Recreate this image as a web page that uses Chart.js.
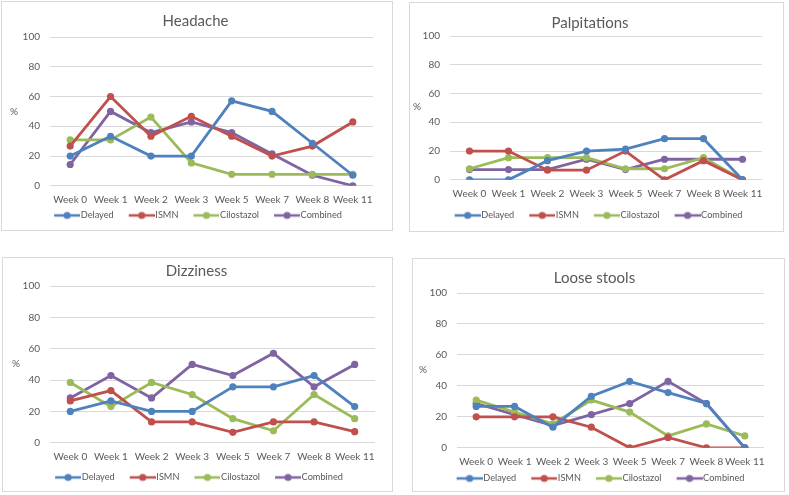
<!DOCTYPE html>
<html><head><meta charset="utf-8">
<script src="https://cdn.jsdelivr.net/npm/chart.js@4"></script>
<style>
html,body{margin:0;padding:0;background:#fff;width:789px;height:495px;overflow:hidden;}
.box{position:absolute;border:1px solid #d9d9d9;box-sizing:border-box;}
canvas{position:absolute;}
</style></head><body>
<div class="box" style="left:1px;top:1px;width:392px;height:230px"></div>
<div class="box" style="left:409px;top:2px;width:375px;height:230px"></div>
<div class="box" style="left:2px;top:257px;width:391px;height:235px"></div>
<div class="box" style="left:412px;top:258px;width:373px;height:234px"></div>
<canvas id="c1"></canvas><canvas id="c2"></canvas><canvas id="c3"></canvas><canvas id="c4"></canvas>
<script>
const weeks = ['Week 0','Week 1','Week 2','Week 3','Week 5','Week 7','Week 8','Week 11'];
const seriesNames = ['Delayed','ISMN','Cilostazol','Combined'];
const yTicks = [0,20,40,60,80,100];

const headacheDelayed    = [20, 33.3, 20, 20, 57.1, 50, 28.6, 7.1];
const headacheISMN       = [26.7, 60, 33.3, 46.7, 33.3, 20, 26.7, 42.9];
const headacheCilostazol = [30.8, 30.8, 46.2, 15.4, 7.7, 7.7, 7.7, 7.7];
const headacheCombined   = [14.3, 50, 35.7, 42.9, 35.7, 21.4, 7.1, 0];

const palpDelayed    = [0, 0, 13.3, 20, 21.4, 28.6, 28.6, 0];
const palpISMN       = [20, 20, 6.7, 6.7, 20, 0, 13.3, 0];
const palpCilostazol = [7.7, 15.4, 15.4, 15.4, 7.7, 7.7, 15.4, 0];
const palpCombined   = [7.1, 7.1, 7.1, 14.3, 7.1, 14.3, 14.3, 14.3];

const dizzDelayed    = [20, 26.7, 20, 20, 35.7, 35.7, 42.9, 23.1];
const dizzISMN       = [26.7, 33.3, 13.3, 13.3, 6.7, 13.3, 13.3, 7.1];
const dizzCilostazol = [38.5, 23.1, 38.5, 30.8, 15.4, 7.7, 30.8, 15.4];
const dizzCombined   = [28.6, 42.9, 28.6, 50, 42.9, 57.1, 35.7, 50];

const looseDelayed    = [26.7, 26.7, 13.3, 33.3, 42.9, 35.7, 28.6, 0];
const looseISMN       = [20, 20, 20, 13.3, 0, 6.7, 0, 0];
const looseCilostazol = [30.8, 23.1, 15.4, 30.8, 23.1, 7.7, 15.4, 7.7];
const looseCombined   = [28.6, 21.4, 14.3, 21.4, 28.6, 42.9, 28.6, 0];

const colors = ['#4F81BD','#C0504D','#9BBB59','#8064A2'];
const FONT = 'Lato';
const TXT = '#595959';
const BOXW = 35;
const LEG_PAD = 2;
const LINE_OFF = 13; // empty space before the legend line inside each item

function legendImg(color){
  const c = document.createElement('canvas');
  c.width = BOXW + 8; c.height = 10;
  const x = c.getContext('2d');
  x.strokeStyle = color; x.lineWidth = 2.5;
  x.beginPath(); x.moveTo(c.width - 26, 5); x.lineTo(c.width, 5); x.stroke();
  x.fillStyle = color; x.beginPath(); x.arc(c.width - 13, 5, 3.6, 0, Math.PI*2); x.fill();
  return c;
}
const legendImgs = colors.map(legendImg);

const pctPlugin = {
  id: 'pct',
  beforeDraw(chart, args, opts){
    const lg = chart.legend;
    if (lg && lg.lineWidths && !lg._shifted) {
      const lw = lg.lineWidths[0];
      const start = (lg.left + LEG_PAD + lg.right - lw) / 2;
      const vc = (start + LINE_OFF + start + lw - LEG_PAD) / 2;
      const dx = opts.lx - vc;
      lg.left += dx; lg.right += dx; lg._shifted = true;
    }
  },
  afterDraw(chart, args, opts){
    const ctx = chart.ctx;
    ctx.save();
    ctx.fillStyle = TXT; ctx.font = '10px ' + FONT;
    ctx.textAlign = 'center'; ctx.textBaseline = 'middle';
    ctx.fillText('%', opts.x, opts.y);
    ctx.restore();
  }
};

// g: geometry in absolute page coordinates
function makeChart(id, title, data, g){
  const cv = document.getElementById(id);
  const cx = g.bx + 1, cy = g.by + 1;
  const W = g.bw - 2;
  const plotL = g.pl - cx, plotR = g.pr - cx, plotT = g.pt - cy, plotB = g.pb - cy;
  const titleC = g.ty - cy;
  const lh = 15 * 1.2;
  const tPadTop = titleC - lh/2;
  const tPadBot = plotT - tPadTop - lh;
  const legC = g.ly - cy;
  const legTop = legC - 7;
  const H = Math.ceil(legTop + 24);
  const hx = legTop - plotB;
  const tickPad = (g.xy - cy) - plotB - 6;
  const R = W - plotR;
  const yW = 32;
  const L = plotL - yW;
  cv.style.left = cx + 'px'; cv.style.top = cy + 'px';
  cv.width = W; cv.height = H;
  return new Chart(cv, {
    type: 'line',
    data: {
      labels: weeks,
      datasets: data.map((d, i) => ({
        label: seriesNames[i], data: d,
        borderColor: colors[i], backgroundColor: colors[i],
        pointBackgroundColor: colors[i], pointBorderColor: colors[i],
        borderWidth: 2.8, pointRadius: 3.6, pointBorderWidth: 0, tension: 0
      }))
    },
    options: {
      responsive: false, animation: false,
      layout: { padding: { left: L, right: R, top: 0, bottom: 0 } },
      plugins: {
        title: { display: true, text: title, color: TXT,
          font: { family: FONT, size: 15, weight: 'normal' },
          padding: { top: tPadTop, bottom: tPadBot } },
        legend: { position: 'bottom',
          labels: { usePointStyle: true, pointStyleWidth: BOXW, padding: LEG_PAD, color: TXT,
            font: { family: FONT, size: 9.2 },
            generateLabels(chart){
              const items = Chart.defaults.plugins.legend.labels.generateLabels(chart);
              items.forEach((it, i) => { it.pointStyle = legendImgs[i]; });
              return items;
            } } },
        tooltip: { enabled: false },
        pct: { x: g.px - cx, y: g.py - cy, lx: g.lx - cx }
      },
      scales: {
        x: { offset: true, grid: { display: false, drawTicks: false }, border: { display: false },
          ticks: { color: TXT, font: { family: FONT, size: 10 }, padding: tickPad,
            maxRotation: 0, minRotation: 0, autoSkip: false },
          afterFit(s){ s.height = hx; } },
        y: { min: 0, max: 100,
          grid: { color: '#d9d9d9', lineWidth: 1, drawTicks: false }, border: { display: false },
          afterBuildTicks(s){ s.ticks = yTicks.map(v => ({ value: v })); },
          ticks: { color: TXT, font: { family: FONT, size: 10 }, padding: 10 },
          afterFit(s){ s.width = yW; } }
      }
    },
    plugins: [pctPlugin]
  });
}

makeChart('c1', 'Headache', [headacheDelayed, headacheISMN, headacheCilostazol, headacheCombined],
  { bx:1, by:1, bw:392, pl:50, pr:373, pt:37, pb:183, ty:21, xy:197, ly:213, lx:198, px:14, py:112 });
makeChart('c2', 'Palpitations', [palpDelayed, palpISMN, palpCilostazol, palpCombined],
  { bx:409, by:2, bw:375, pl:450, pr:762, pt:36, pb:177, ty:23, xy:191, ly:213, lx:598.5, px:417, py:107 });
makeChart('c3', 'Dizziness', [dizzDelayed, dizzISMN, dizzCilostazol, dizzCombined],
  { bx:2, by:257, bw:391, pl:50, pr:375, pt:286, pb:440, ty:271, xy:454, ly:475, lx:199, px:16, py:364 });
makeChart('c4', 'Loose stools', [looseDelayed, looseISMN, looseCilostazol, looseCombined],
  { bx:412, by:258, bw:373, pl:457, pr:764, pt:293, pb:445, ty:278, xy:459, ly:476, lx:600.5, px:423, py:370 });
</script>
</body></html>
